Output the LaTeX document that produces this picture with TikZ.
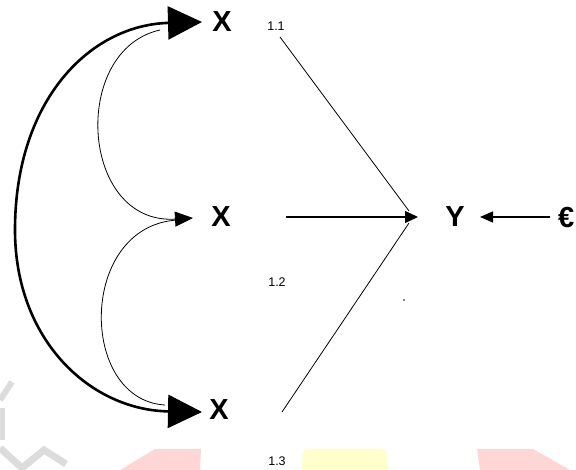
\documentclass[tikz,border=0pt]{standalone}
\usepackage{fontspec}
\setmainfont{Liberation Sans}
\usetikzlibrary{arrows.meta}
\definecolor{wmred}{HTML}{FFD6D6}
\definecolor{wmyel}{HTML}{FFFFCC}
\definecolor{wmgray}{HTML}{DCDCDC}
\begin{document}
\begin{tikzpicture}[x=1pt,y=-1pt,
  var/.style={font=\fontsize{29}{29}\selectfont\bfseries, inner sep=0pt},
  lbl/.style={font=\fontsize{12.5}{13}\selectfont, inner sep=0pt},
  bigarc/.style={line width=2.6pt,
     {Triangle[length=34pt,width=33pt]}-{Triangle[length=34pt,width=33pt]}},
  thinarc/.style={line width=0.8pt},
  pathline/.style={line width=0.8pt},
  mainline/.style={line width=1.3pt},
  wm/.style={draw=none}
]
\useasboundingbox (0,0) rectangle (576,470);
% watermark
\fill[wmred] (120,470) -- (155,449) -- (201,449) -- (200,470) -- cycle;
\fill[wmyel] (302,470) -- (303,452) to[out=80,in=180] (310,449) -- (380,449)
   to[out=0,in=100] (387,452) -- (388,470) -- cycle;
\fill[wmred] (480,470) -- (477,449) -- (533,449) -- (570,470) -- cycle;
\draw[wmgray, line width=6pt] (12,382) -- (0,400);
\draw[wmgray, line width=5pt] (2,408) -- (2,440);
\draw[wmgray, line width=7pt] (0,448) -- (22,468) -- (44,450) -- (66,464);
% nodes
\node[var] (x1) at (222,22) {X};
\node[var] (x2) at (221,217) {X};
\node[var] (x3) at (219,410) {X};
\node[var] (y) at (455,217) {Y};
\node[var, anchor=west] (e) at (558,218) {€};
\node[lbl] (l1) at (276,26) {1.1};
\node[lbl] (l2) at (277,282) {1.2};
\node[lbl] (l3) at (277,461) {1.3};
% coordinates
\coordinate (t1) at (202,22);
\coordinate (t2) at (193,218);
\coordinate (t3) at (202,412);
\coordinate (ty) at (418,217);
\coordinate (te) at (480,217);
\coordinate (s1) at (160,30);
\coordinate (s2) at (178,220);
\coordinate (s3) at (165,405);
\coordinate (m) at (15,230);
\coordinate (a1) at (280,37);
\coordinate (a2) at (286,217);
\coordinate (a3) at (282,412);
\coordinate (ya) at (409,211);
\coordinate (yb) at (409,223);
\coordinate (ea) at (550,217);
% curves
\draw[bigarc] (t1) .. controls (90,25) and (15,100) .. (m)
   .. controls (15,340) and (90,410) .. (t3);
\draw[thinarc, -{Triangle[length=18pt,width=15pt]}] (s1) .. controls (70,50) and (80,225) .. (t2);
\draw[thinarc] (s2) .. controls (78,225) and (78,400) .. (s3);
% lines to Y
\draw[pathline] (a1) -- (ya);
\draw[pathline] (a3) -- (yb);
\draw[mainline, -{Triangle[length=13pt,width=12pt]}] (a2) -- (ty);
\draw[mainline, -{Triangle[length=13pt,width=11pt]}] (ea) -- (te);
\fill (404,300) circle (0.8pt);
\end{tikzpicture}
\end{document}
